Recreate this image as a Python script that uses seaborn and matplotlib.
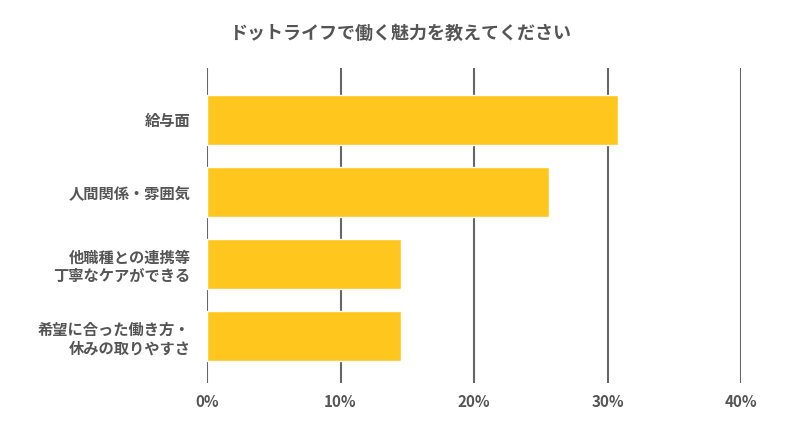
import matplotlib
matplotlib.use("Agg")
import matplotlib.pyplot as plt
import seaborn as sns
import pandas as pd

categories = ["給与面", "人間関係・雰囲気", "他職種との連携等\n丁寧なケアができる", "希望に合った働き方・\n休みの取りやすさ"]
values = [30.8, 25.6, 14.5, 14.5]
ticks = [0, 10, 20, 30, 40]
tick_labels = ["0%", "10%", "20%", "30%", "40%"]

sns.set_theme(style="white")
plt.rcParams['font.family'] = ['Noto Sans CJK JP', 'DejaVu Sans']

df = pd.DataFrame({"cat": categories, "val": values})
fig = plt.figure(figsize=(8, 4.28), dpi=100)
ax = fig.add_axes([207/800, 1-383/428, (741-207)/800, (383-68)/428])
sns.barplot(data=df, x="val", y="cat", color="#FFC61E", saturation=1, width=0.69, ax=ax, zorder=3)
ax.set_xlim(0, 40)
ax.set_ylim(3.65, -0.72)
ax.set_xticks(ticks)
ax.set_xticklabels(tick_labels, color="#555555", fontsize=11, fontweight="bold")
ax.tick_params(axis="y", labelsize=11, labelcolor="#555555", length=0, pad=12)
for l in ax.get_yticklabels():
    l.set_fontweight("bold")
    l.set_horizontalalignment("right")
ax.tick_params(axis="x", length=0, pad=8)
ax.xaxis.grid(True, color="#666666", linewidth=1.5, zorder=0)
for s in ax.spines.values():
    s.set_visible(False)
ax.set_xlabel("")
ax.set_ylabel("")
fig.text(0.5, 1-33/428, "ドットライフで働く魅力を教えてください", ha="center", va="center",
         fontsize=13, fontweight="bold", color="#555555")
fig.savefig("out.png", dpi=100)
